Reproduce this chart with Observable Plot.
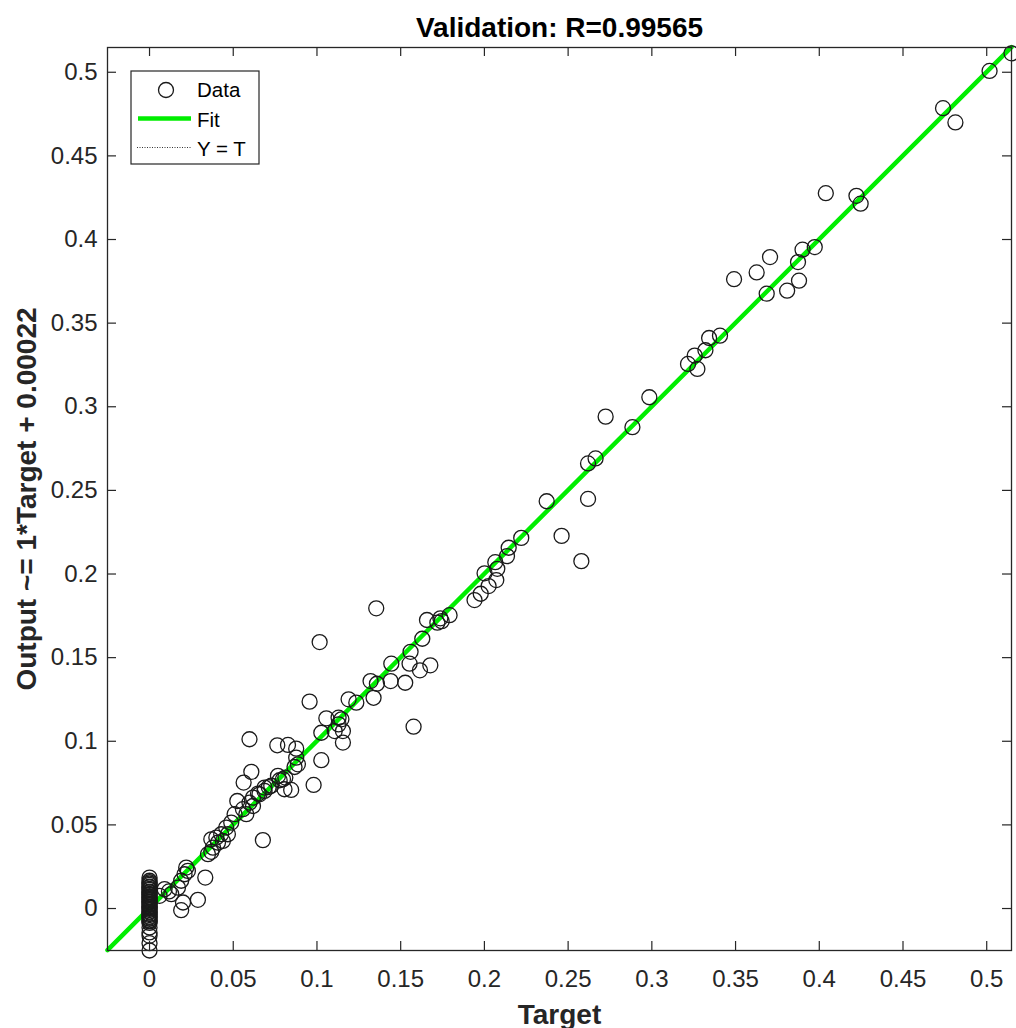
<!DOCTYPE html>
<html><head><meta charset="utf-8">
<script src="https://cdn.jsdelivr.net/npm/d3@7"></script>
<script src="https://cdn.jsdelivr.net/npm/@observablehq/plot@0.6"></script>
<style>
body{margin:0;background:#fff;}
#chart{width:1016px;height:1028px;}
</style></head><body><div id="chart"></div>
<script>
const targetValues = [
  0.5148,0.5017,0.4739,0.4813,0.4039,0.4222,0.4247,0.3973,0.3900,0.3873,
  0.3879,0.3808,0.3706,0.3626,0.3686,0.3491,0.3407,0.3342,0.3320,0.3256,
  0.3216,0.3272,0.2985,0.2724,0.2884,0.2664,0.2619,0.2619,0.2372,0.2461,
  0.2579,0.2220,0.2145,0.2135,0.2065,0.2077,0.2001,0.2071,0.2025,0.1978,
  0.1941,0.1354,0.1792,0.1737,0.1719,0.1657,0.1745,0.1629,0.1559,0.1444,
  0.1553,0.1677,0.1615,0.1320,0.1358,0.1440,0.1527,0.1338,0.1189,0.1235,
  0.1577,0.1146,0.1129,0.1155,0.1155,0.1016,0.0956,0.0597,0.0763,0.0827,
  0.0876,0.1056,0.1129,0.1026,0.1106,0.1026,0.0980,0.0846,0.0866,0.0886,
  0.0876,0.0811,0.0777,0.0797,0.0806,0.0767,0.0608,0.0562,0.0687,0.0648,
  0.0618,0.0524,0.0597,0.0618,0.0578,0.0558,0.0508,0.0488,0.0458,0.0428,
  0.0438,0.0409,0.0379,0.0369,0.0349,0.0677,0.0468,0.0333,0.0289,0.0219,
  0.0229,0.0209,0.0189,0.0200,0.0189,0.0116,0.0090,0.0060,0.0687,0.0657,
  0.0399,0.0369,0.0170,0.0130,0.0712,0.0727,
  0,0,0,0,0,0,0,0,0,0,
  0,0,0,0,0,0,0,0,0,0,
  0,0,0,0,0,0,0,0,0,0,
  0,0,0,0,0,0,0,0,0,0
];
const outputValues = [
  0.5113,0.5008,0.4785,0.4700,0.4277,0.4261,0.4214,0.3955,0.3939,0.3865,
  0.3754,0.3694,0.3895,0.3803,0.3676,0.3763,0.3425,0.3411,0.3338,0.3306,
  0.3256,0.3226,0.3057,0.2941,0.2878,0.2691,0.2661,0.2449,0.2435,0.2228,
  0.2077,0.2216,0.2157,0.2107,0.2071,0.2031,0.2004,0.1964,0.1928,0.1882,
  0.1844,0.1795,0.1754,0.1735,0.1709,0.1725,0.1718,0.1613,0.1535,0.1464,
  0.1464,0.1454,0.1424,0.1360,0.1344,0.1360,0.1350,0.1260,0.1251,0.1231,
  0.1087,0.1131,0.1101,0.1061,0.0992,0.1593,0.1237,0.1012,0.0976,0.0978,
  0.0956,0.1137,0.1141,0.1051,0.1061,0.0887,0.0739,0.0709,0.0846,0.0862,
  0.0902,0.0783,0.0767,0.0773,0.0713,0.0793,0.0817,0.0753,0.0703,0.0687,
  0.0663,0.0643,0.0633,0.0613,0.0564,0.0594,0.0564,0.0514,0.0484,0.0444,
  0.0404,0.0394,0.0364,0.0339,0.0325,0.0409,0.0444,0.0185,0.0052,0.0245,
  0.0225,0.0205,0.0166,0.0036,-0.0010,0.0102,0.0116,0.0076,0.0723,0.0683,
  0.0424,0.0414,0.0125,0.0086,0.0726,0.0734,
  0.0185,0.0166,0.0157,0.0149,0.0141,0.0131,0.0126,0.0117,0.0111,0.0101,
  0.0096,0.0087,0.0081,0.0071,0.0066,0.0057,0.0051,0.0042,0.0037,0.0027,
  0.0021,0.0012,0.0006,-0.0002,-0.0009,-0.0018,-0.0024,-0.0033,-0.0039,-0.0048,
  -0.0054,-0.0062,-0.0071,-0.0077,-0.0086,-0.0113,-0.0143,-0.0163,-0.0207,-0.0251
];
const axisLimits = [-0.0251, 0.5148];
const tickValues = [0, 0.05, 0.1, 0.15, 0.2, 0.25, 0.3, 0.35, 0.4, 0.45, 0.5];
const tickLabels = ["0","0.05","0.1","0.15","0.2","0.25","0.3","0.35","0.4","0.45","0.5"];
const fitSlope = 1;
const fitIntercept = 0.00022;
const titleText = "Validation: R=0.99565";
const xLabel = "Target";
const yLabel = "Output ~= 1*Target + 0.00022";
const legendLabels = ["Data", "Fit", "Y = T"];

const FONT = '"Liberation Sans", Arial, Helvetica, sans-serif';
const AX = "#262626";
const GREEN = "#00ee00";

const data = targetValues.map((t, i) => ({t, y: outputValues[i]}));
const fitLine = axisLimits.map(t => ({t, y: fitSlope * t + fitIntercept}));
const identity = axisLimits.map(t => ({t, y: t}));
const fmt = d => tickLabels[tickValues.indexOf(d)];

const W = 1016, H = 1028, ML = 107, MR = 5, MT = 47, MB = 78;
const FW = W - ML - MR, FH = H - MT - MB, TL = 9;

const svg = Plot.plot({
  width: W, height: H,
  marginLeft: ML, marginRight: MR, marginTop: MT, marginBottom: MB,
  style: {fontFamily: FONT, background: "white", color: AX},
  x: {domain: axisLimits},
  y: {domain: axisLimits},
  marks: [
    Plot.line(identity, {x: "t", y: "y", stroke: "#000", strokeWidth: 1, strokeDasharray: "1,2"}),
    Plot.line(fitLine, {x: "t", y: "y", stroke: GREEN, strokeWidth: 4.5}),
    Plot.dot(data, {x: "t", y: "y", r: 7.5, stroke: "#1a1a1a", strokeWidth: 1.3, fill: "none"}),
    Plot.frame({stroke: AX, strokeWidth: 1.3}),
    Plot.tickX(tickValues, {x: d => d, insetTop: FH - TL, stroke: AX, strokeWidth: 1.2}),
    Plot.tickX(tickValues, {x: d => d, insetBottom: FH - TL, stroke: AX, strokeWidth: 1.2}),
    Plot.tickY(tickValues, {y: d => d, insetRight: FW - TL, stroke: AX, strokeWidth: 1.2}),
    Plot.tickY(tickValues, {y: d => d, insetLeft: FW - TL, stroke: AX, strokeWidth: 1.2}),
    Plot.axisX(tickValues, {tickSize: 0, tickPadding: 19, tickFormat: fmt, fontSize: 24, label: null, fill: AX}),
    Plot.axisY(tickValues, {tickSize: 0, tickPadding: 10, tickFormat: fmt, fontSize: 24, label: null, fill: AX}),
    Plot.text([titleText], {text: d => d, frameAnchor: "top", textAnchor: "middle", lineAnchor: "bottom", dy: -11, fontSize: 28, fontWeight: "bold", fill: "#000"}),
    Plot.text([xLabel], {text: d => d, frameAnchor: "bottom", textAnchor: "middle", lineAnchor: "bottom", dy: 73, fontSize: 28, fontWeight: "bold", fill: AX}),
    Plot.text([yLabel], {text: d => d, frameAnchor: "left", textAnchor: "middle", lineAnchor: "bottom", rotate: -90, dx: -72, fontSize: 28, fontWeight: "bold", fill: AX})
  ]
});

// legend box (inside the axes, top-left)
const lg = d3.select(svg).append("g")
  .attr("font-family", FONT).attr("font-size", 20.5).attr("fill", "#000").attr("text-anchor", "start");
lg.append("rect").attr("x", 131).attr("y", 71).attr("width", 128).attr("height", 93)
  .attr("fill", "white").attr("stroke", AX).attr("stroke-width", 1.2);
lg.append("circle").attr("cx", 166).attr("cy", 90).attr("r", 7.5)
  .attr("fill", "none").attr("stroke", "#1a1a1a").attr("stroke-width", 1.3);
lg.append("line").attr("x1", 138).attr("x2", 191).attr("y1", 118.5).attr("y2", 118.5)
  .attr("stroke", GREEN).attr("stroke-width", 4.5);
lg.append("line").attr("x1", 137).attr("x2", 191).attr("y1", 147.5).attr("y2", 147.5)
  .attr("stroke", "#333").attr("stroke-width", 1).attr("stroke-dasharray", "1,1.5");
const ly = [97, 126.5, 156];
legendLabels.forEach((s, i) => {
  lg.append("text").attr("x", 197).attr("y", ly[i]).attr("text-anchor", "start").text(s);
});

document.getElementById("chart").appendChild(svg);
</script>
</body></html>
